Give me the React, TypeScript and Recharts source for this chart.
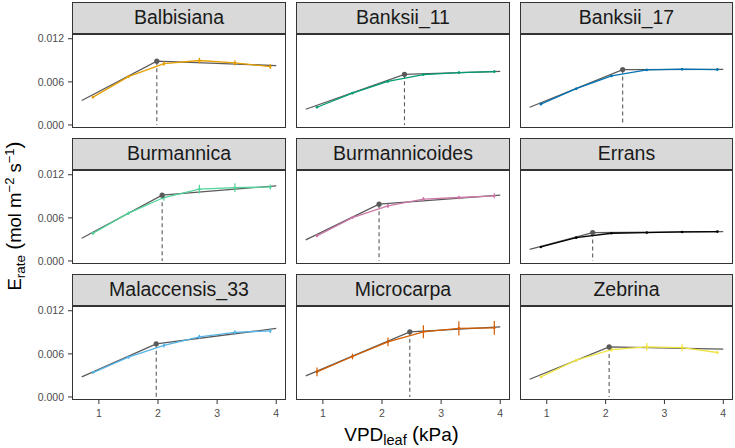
import React from "react";
import { ComposedChart, Line, Scatter, XAxis, YAxis, ErrorBar } from "recharts";

// species shown in each facet, in reading order
const SPECIES = [
  "Balbisiana",
  "Banksii_11",
  "Banksii_17",
  "Burmannica",
  "Burmannicoides",
  "Errans",
  "Malaccensis_33",
  "Microcarpa",
  "Zebrina",
];

const LINE_COLORS = [
  "#E69F00",
  "#009E73",
  "#0072B2",
  "#50D49A",
  "#CC79A7",
  "#000000",
  "#56B4E9",
  "#D55E00",
  "#F0E442",
];

// measured VPD levels (kPa)
const VPD = [0.9, 1.5, 2.1, 2.7, 3.3, 3.9];

// mean transpiration rate per species (mol m-2 s-1)
const E_MEAN = [
  [0.00387, 0.00673, 0.00855, 0.00897, 0.00864, 0.00813],
  [0.00247, 0.00443, 0.00607, 0.00701, 0.00729, 0.00743],
  [0.00289, 0.00505, 0.00682, 0.00766, 0.00776, 0.00771],
  [0.00386, 0.00665, 0.00883, 0.01, 0.0102, 0.0103],
  [0.00349, 0.00604, 0.00767, 0.0086, 0.00883, 0.00907],
  [0.00195, 0.00325, 0.00386, 0.00395, 0.00404, 0.00409],
  [0.0034, 0.00554, 0.00717, 0.00837, 0.00898, 0.0092],
  [0.00349, 0.00563, 0.00767, 0.00907, 0.00954, 0.00962],
  [0.00279, 0.00512, 0.0066, 0.00697, 0.00688, 0.00619],
];

// standard errors
const E_ERR = [
  [0.00015, 0.00015, 0.0003, 0.0004, 0.00035, 0.00035],
  [0.0001, 0.0001, 0.00015, 0.00015, 0.00015, 0.00015],
  [0.0001, 0.0001, 0.00015, 0.00015, 0.00015, 0.0002],
  [0.0002, 0.00025, 0.00045, 0.0006, 0.0006, 0.00035],
  [0.0002, 0.0002, 0.0003, 0.0003, 0.00025, 0.00035],
  [0.00008, 0.00008, 0.0001, 0.0001, 0.0001, 0.00012],
  [0.00015, 0.0002, 0.0003, 0.0003, 0.0003, 0.0003],
  [0.0006, 0.0004, 0.0006, 0.0009, 0.001, 0.00095],
  [0.00015, 0.0002, 0.0003, 0.00055, 0.0005, 0.00015],
];

// segmented fit: start, breakpoint and end
const FIT_VPD_MIN = 0.71;
const FIT_VPD_MAX = 4.0;
const BREAK_VPD = [1.98, 2.38, 2.29, 2.07, 1.95, 1.78, 1.97, 2.47, 2.06];
const FIT_START = [0.00341, 0.00219, 0.00247, 0.00317, 0.00293, 0.00163, 0.00279, 0.00293, 0.00247];
const FIT_BREAK = [0.00888, 0.00705, 0.00771, 0.00916, 0.00791, 0.00395, 0.00739, 0.00907, 0.00697];
const FIT_END = [0.00827, 0.00745, 0.00773, 0.01046, 0.00916, 0.00409, 0.00954, 0.00976, 0.00665];

const X_TICKS = [1, 2, 3, 4];
const Y_TICKS = [0, 0.006, 0.012];

const X_DOMAIN: [number, number] = [0.545, 4.165];
const Y_DOMAIN: [number, number] = [-0.00042, 0.01266];

const FONT = '"Liberation Sans", Arial, Helvetica, sans-serif';
const FIT_GREY = "#5A5A5A";

const COL_LEFT = [72, 296, 520];
const PANEL_W = [214, 214, 213];
const ROW_TOP = [1.5, 137.5, 273.5];
const STRIP_H = 32;
const PLOT_H = 94;
const Y_AXIS_W = 72;
const X_AXIS_H = 30;
const PAD = 8; // room for the tick labels sitting on the panel edges

function Panel({ idx }: { idx: number }) {
  const row = Math.floor(idx / 3);
  const col = idx % 3;
  const color = LINE_COLORS[idx];
  const showY = col === 0;
  const showX = row === 2;
  const plotTop = ROW_TOP[row] + STRIP_H;
  const left = COL_LEFT[col];
  const w = PANEL_W[col];
  const padBottom = showX ? 0 : PAD;

  const means = VPD.map((x, i) => ({ x, y: E_MEAN[idx][i], err: E_ERR[idx][i] }));
  const fit = [
    { x: FIT_VPD_MIN, y: FIT_START[idx] },
    { x: BREAK_VPD[idx], y: FIT_BREAK[idx] },
    { x: FIT_VPD_MAX, y: FIT_END[idx] },
  ];
  const drop = [
    { x: BREAK_VPD[idx], y: FIT_BREAK[idx] },
    { x: BREAK_VPD[idx], y: 0 },
  ];
  const bp = [{ x: BREAK_VPD[idx], y: FIT_BREAK[idx] }];

  return (
    <>
      <div
        style={{
          position: "absolute",
          left,
          top: ROW_TOP[row],
          width: w,
          height: STRIP_H,
          boxSizing: "border-box",
          background: "#D9D9D9",
          border: "1px solid #333333",
          display: "flex",
          alignItems: "center",
          justifyContent: "center",
          fontFamily: FONT,
          fontSize: 19.5,
          color: "#1A1A1A",
        }}
      >
        {SPECIES[idx]}
      </div>
      <div
        style={{
          position: "absolute",
          left: showY ? left - Y_AXIS_W : left,
          top: plotTop - PAD,
        }}
      >
        <ComposedChart
          width={w + (showY ? Y_AXIS_W : 0)}
          height={PLOT_H + PAD + padBottom + (showX ? X_AXIS_H : 0)}
          margin={{ top: PAD, right: 0, bottom: padBottom, left: 0 }}
        >
          <XAxis
            type="number"
            dataKey="x"
            domain={X_DOMAIN}
            allowDataOverflow
            ticks={X_TICKS}
            interval={0}
            hide={!showX}
            height={X_AXIS_H}
            axisLine={false}
            tickLine={{ stroke: "#333333" }}
            tickSize={4}
            tickMargin={6}
            tick={{ fill: "#4D4D4D", fontSize: 10.5, fontFamily: FONT }}
          />
          <YAxis
            type="number"
            dataKey="y"
            domain={Y_DOMAIN}
            allowDataOverflow
            ticks={Y_TICKS}
            interval={0}
            hide={!showY}
            width={Y_AXIS_W}
            axisLine={false}
            tickLine={{ stroke: "#333333" }}
            tickSize={4}
            tickMargin={4}
            tickFormatter={(v: number) => v.toFixed(3)}
            tick={{ fill: "#4D4D4D", fontSize: 10.5, fontFamily: FONT }}
          />
          <Line
            data={fit}
            dataKey="y"
            stroke={FIT_GREY}
            strokeWidth={1.3}
            dot={false}
            isAnimationActive={false}
          />
          <Line
            data={drop}
            dataKey="y"
            stroke={FIT_GREY}
            strokeWidth={1.1}
            strokeDasharray="4 3"
            dot={false}
            isAnimationActive={false}
          />
          <Line
            data={means}
            dataKey="y"
            stroke={color}
            strokeWidth={1.3}
            dot={{ r: 1.3, fill: color, stroke: "none" }}
            isAnimationActive={false}
          >
            <ErrorBar dataKey="err" direction="y" width={0} stroke={color} strokeWidth={1.2} />
          </Line>
          <Scatter data={bp} dataKey="y" fill={FIT_GREY} shape={(p: any) => <circle cx={p.cx} cy={p.cy} r={2.6} fill={FIT_GREY} />} isAnimationActive={false} />
        </ComposedChart>
      </div>
      <div
        style={{
          position: "absolute",
          left,
          top: plotTop,
          width: w,
          height: PLOT_H,
          boxSizing: "border-box",
          border: "1px solid #333333",
          pointerEvents: "none",
        }}
      />
    </>
  );
}

export default function App() {
  return (
    <div
      style={{
        position: "absolute",
        left: 0,
        top: 0,
        width: 735,
        height: 448,
        background: "#FFFFFF",
        overflow: "hidden",
      }}
    >
      {SPECIES.map((_, i) => (
        <Panel key={i} idx={i} />
      ))}
      <svg
        width={735}
        height={448}
        style={{ position: "absolute", left: 0, top: 0, pointerEvents: "none" }}
      >
        <text
          x={401.5}
          y={441}
          textAnchor="middle"
          fontFamily={FONT}
          fontSize={19}
          fill="#000000"
          style={{ whiteSpace: "pre" }}
        >
          VPD<tspan fontSize={14.5} dy={4}>leaf</tspan>
          <tspan dy={-4}> </tspan>
          <tspan fontSize={21}>(</tspan>
          <tspan>kPa</tspan>
          <tspan fontSize={21}>)</tspan>
        </text>
        <text
          transform="rotate(-90)"
          x={-216}
          y={21}
          textAnchor="middle"
          fontFamily={FONT}
          fontSize={18.5}
          fill="#000000"
          style={{ whiteSpace: "pre" }}
        >
          E<tspan fontSize={13.5} dy={4}>rate</tspan>
          <tspan dy={-4}> </tspan>
          <tspan fontSize={21}>(</tspan>
          <tspan>mol m</tspan>
          <tspan fontSize={13} dy={-7}>−2</tspan>
          <tspan dy={7}> s</tspan>
          <tspan fontSize={13} dy={-7}>−1</tspan>
          <tspan dy={7} fontSize={21}>)</tspan>
        </text>
      </svg>
    </div>
  );
}
